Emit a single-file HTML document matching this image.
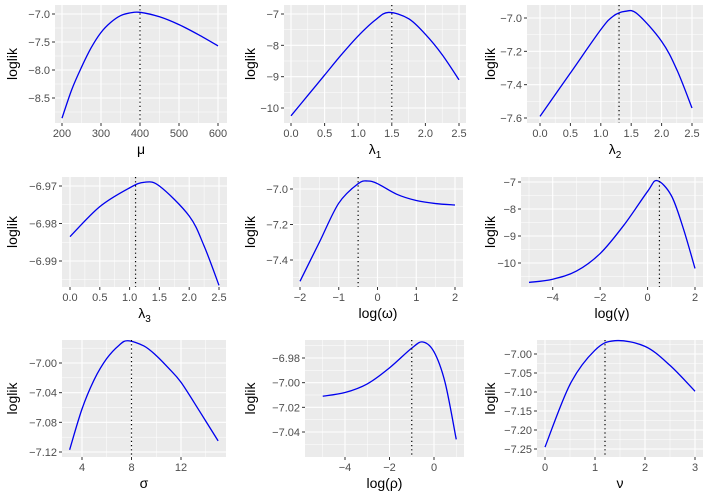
<!DOCTYPE html>
<html><head><meta charset="utf-8"><style>
html,body{margin:0;padding:0;background:#fff;}
svg{display:block;font-family:"Liberation Sans",sans-serif;}
</style></head><body>
<svg id="fig" width="709" height="502" viewBox="0 0 709 502" xmlns="http://www.w3.org/2000/svg"></svg>
<script>
// ---- data (one small array set per panel) ----
const muX=[200,225,250,275,300,325,350,375,400,450,500,550,600];
const muY=[-8.86,-8.35,-7.95,-7.6,-7.33,-7.15,-7.03,-6.98,-6.97,-7.05,-7.19,-7.37,-7.57];
const l1X=[0,0.25,0.5,0.75,1.0,1.25,1.45,1.75,2.0,2.25,2.5];
const l1Y=[-10.25,-9.6,-8.95,-8.3,-7.7,-7.2,-6.95,-7.15,-7.65,-8.3,-9.1];
const l2X=[0,0.5,1.0,1.2,1.4,1.6,2.0,2.25,2.5];
const l2Y=[-7.59,-7.33,-7.07,-6.99,-6.96,-6.975,-7.14,-7.31,-7.54];
const l3X=[0,0.5,1.0,1.25,1.5,2.0,2.25,2.5];
const l3Y=[-6.9835,-6.9755,-6.9705,-6.969,-6.970,-6.978,-6.986,-6.9965];
const omX=[-2,-1.5,-1,-0.5,-0.25,0,0.5,1,1.5,2];
const omY=[-7.52,-7.3,-7.08,-6.97,-6.955,-6.97,-7.03,-7.065,-7.082,-7.09];
const gaX=[-5,-4,-3,-2,-1,0,0.4,1,1.5,2];
const gaY=[-10.72,-10.6,-10.3,-9.65,-8.6,-7.35,-6.95,-7.5,-8.7,-10.2];
const siX=[3,4,5,6,7,7.7,9,10,11,12,13.5,15];
const siY=[-7.117,-7.062,-7.022,-6.994,-6.976,-6.97,-6.977,-6.99,-7.007,-7.026,-7.065,-7.105];
const rhX=[-5,-4,-3,-2,-1,-0.5,0,0.5,1];
const rhY=[-7.011,-7.008,-7.001,-6.988,-6.972,-6.967,-6.975,-7.0,-7.046];
const nuX=[0,0.5,1,1.4,2,2.5,3];
const nuY=[-7.245,-7.08,-6.99,-6.965,-6.98,-7.03,-7.098];
// tick labels
const muTicks=[200,300,400,500,600], muYT=[-7.0,-7.5,-8.0,-8.5];
const l1Ticks=[0,0.5,1,1.5,2,2.5], l1YT=[-7,-8,-9,-10];
const l2YT=[-7.0,-7.2,-7.4,-7.6];
const l3YT=[-6.97,-6.98,-6.99];
const omTicks=[-2,-1,0,1,2], omYT=[-7.0,-7.2,-7.4];
const gaTicks=[-4,-2,0,2], gaYT=[-7,-8,-9,-10];
const siTicks=[4,8,12], siYT=[-7.00,-7.04,-7.08,-7.12];
const rhTicks=[-4,-2,0], rhYT=[-6.98,-7.00,-7.02,-7.04];
const nuTicks=[0,1,2,3], nuYT=[-7.00,-7.05,-7.10,-7.15,-7.20,-7.25];
const optima=[400,1.5,1.3,1.1,-0.5,0.5,8,-1,1.2];

const NS="http://www.w3.org/2000/svg";
const svg=document.getElementById('fig');
function el(tag,attrs,parent){const e=document.createElementNS(NS,tag);for(const k in attrs)e.setAttribute(k,attrs[k]);(parent||svg).appendChild(e);return e;}

const panels=[
 {name:'mu',xs:muX,ys:muY,xt:muTicks,yt:muYT,box:[55,5,227,123],xa:[200,62,600,218],ya:[-7,14,-8.5,98],ttl:['μ',''],dig:1,cx:12},
 {name:'lambda1',xs:l1X,ys:l1Y,xt:l1Ticks,yt:l1YT,box:[284,5,466,123],xa:[0,291,2.5,459],ya:[-7,14,-10,108],ttl:['λ','1'],dig:0,cx:250,xdig:1},
 {name:'lambda2',xs:l2X,ys:l2Y,xt:l1Ticks,yt:l2YT,box:[527,5,703,123],xa:[0,540,2.5,692],ya:[-7.0,18,-7.6,118],ttl:['λ','2'],dig:1,cx:490,xdig:1},
 {name:'lambda3',xs:l3X,ys:l3Y,xt:l1Ticks,yt:l3YT,box:[62,177,227,287],xa:[0,70,2.5,219],ya:[-6.97,186,-6.99,261],ttl:['λ','3'],dig:2,cx:12,xdig:1},
 {name:'omega',xs:omX,ys:omY,xt:omTicks,yt:omYT,box:[293,177,463,287],xa:[-2,300,2,455],ya:[-7.0,189,-7.4,260],ttl:['log(ω)',''],dig:1,cx:250},
 {name:'gamma',xs:gaX,ys:gaY,xt:gaTicks,yt:gaYT,box:[521,177,703,287],xa:[-5,529,2,695],ya:[-7,182,-10,263],ttl:['log(γ)',''],dig:0,cx:490},
 {name:'sigma',xs:siX,ys:siY,xt:siTicks,yt:siYT,box:[62,340,226,457],xa:[4,82,12,181],ya:[-7.00,363,-7.12,452],ttl:['σ',''],dig:2,cx:12},
 {name:'rho',xs:rhX,ys:rhY,xt:rhTicks,yt:rhYT,box:[305,340,464,457],xa:[-4,345,0,434],ya:[-6.98,358,-7.04,432],ttl:['log(ρ)',''],dig:2,cx:250},
 {name:'nu',xs:nuX,ys:nuY,xt:nuTicks,yt:nuYT,box:[537,340,703,457],xa:[0,545,3,695],ya:[-7.00,354,-7.25,449],ttl:['ν',''],dig:2,cx:490}
];
function fmt(v,d){let s=v.toFixed(d);return s.replace('-','−');}
panels.forEach((p,i)=>{
 const [l,t,r,b]=p.box;
 const X=v=>p.xa[1]+(v-p.xa[0])*(p.xa[3]-p.xa[1])/(p.xa[2]-p.xa[0]);
 const Y=v=>p.ya[1]+(v-p.ya[0])*(p.ya[3]-p.ya[1])/(p.ya[2]-p.ya[0]);
 const g=el('g',{});
 
 
 const bg=el('rect',{x:l,y:t,width:r-l,height:b-t,fill:'#ebebeb'},g);
 
 
 const xs=p.xt, dx=xs[1]-xs[0];
 for(let k=-1;k<xs.length;k++){const v=xs[0]+dx*(k+0.5);const px=X(v);if(px>l&&px<r)el('line',{x1:px,x2:px,y1:t,y2:b,stroke:'#fff','stroke-width':0.5},g);}
 const ys=p.yt, dy=ys[1]-ys[0];
 for(let k=-1;k<ys.length;k++){const v=ys[0]+dy*(k+0.5);const py=Y(v);if(py>t&&py<b)el('line',{x1:l,x2:r,y1:py,y2:py,stroke:'#fff','stroke-width':0.5},g);}
 xs.forEach(v=>{const px=X(v);el('line',{x1:px,x2:px,y1:t,y2:b,stroke:'#fff','stroke-width':1.1},g);
  el('line',{x1:px,x2:px,y1:b,y2:b+3,stroke:'#333','stroke-width':1},g);
  const tx=el('text',{x:px,y:b+14,'text-anchor':'middle','font-size':11,fill:'#4d4d4d'},g);
  tx.textContent=fmt(v,p.xdig||0);
  
  });
 ys.forEach(v=>{const py=Y(v);el('line',{x1:l,x2:r,y1:py,y2:py,stroke:'#fff','stroke-width':1.1},g);
  el('line',{x1:l-3,x2:l,y1:py,y2:py,stroke:'#333','stroke-width':1},g);
  const tx=el('text',{x:l-5,y:py+4,'text-anchor':'end','font-size':11,fill:'#4d4d4d'},g);
  tx.textContent=fmt(v,p.dig);
  
  });
 const pts=p.xs.map((v,k)=>[X(v),Y(p.ys[k])]);
 let d='M'+pts[0][0]+','+pts[0][1];
 for(let k=0;k<pts.length-1;k++){const p0=pts[Math.max(0,k-1)],p1=pts[k],p2=pts[k+1],p3=pts[Math.min(pts.length-1,k+2)];
  d+=' C'+(p1[0]+(p2[0]-p0[0])/6)+','+(p1[1]+(p2[1]-p0[1])/6)+' '+(p2[0]-(p3[0]-p1[0])/6)+','+(p2[1]-(p3[1]-p1[1])/6)+' '+p2[0]+','+p2[1];}
 const path=el('path',{d:d,fill:'none',stroke:'#0000ee','stroke-width':1.3},g);
 
 
 const ox=X(optima[i]);
 const vl=el('line',{x1:ox,x2:ox,y1:t,y2:b,stroke:'#000','stroke-width':1.2,'stroke-dasharray':'1.2,3'},g);
 
 
 const xt=el('text',{x:(l+r)/2,y:b+31,'text-anchor':'middle','font-size':14,fill:'#000'},g);
 xt.textContent=p.ttl[0];
 if(p.ttl[1]){const s=el('tspan',{'font-size':10,dy:4},xt);s.textContent=p.ttl[1];}
 
 
 const yt=el('text',{x:0,y:0,'text-anchor':'middle','font-size':14,fill:'#000',transform:'translate('+(p.cx+5)+','+((t+b)/2)+') rotate(-90)'},g);
 yt.textContent='loglik';
 
 
});
</script>
</body></html>
